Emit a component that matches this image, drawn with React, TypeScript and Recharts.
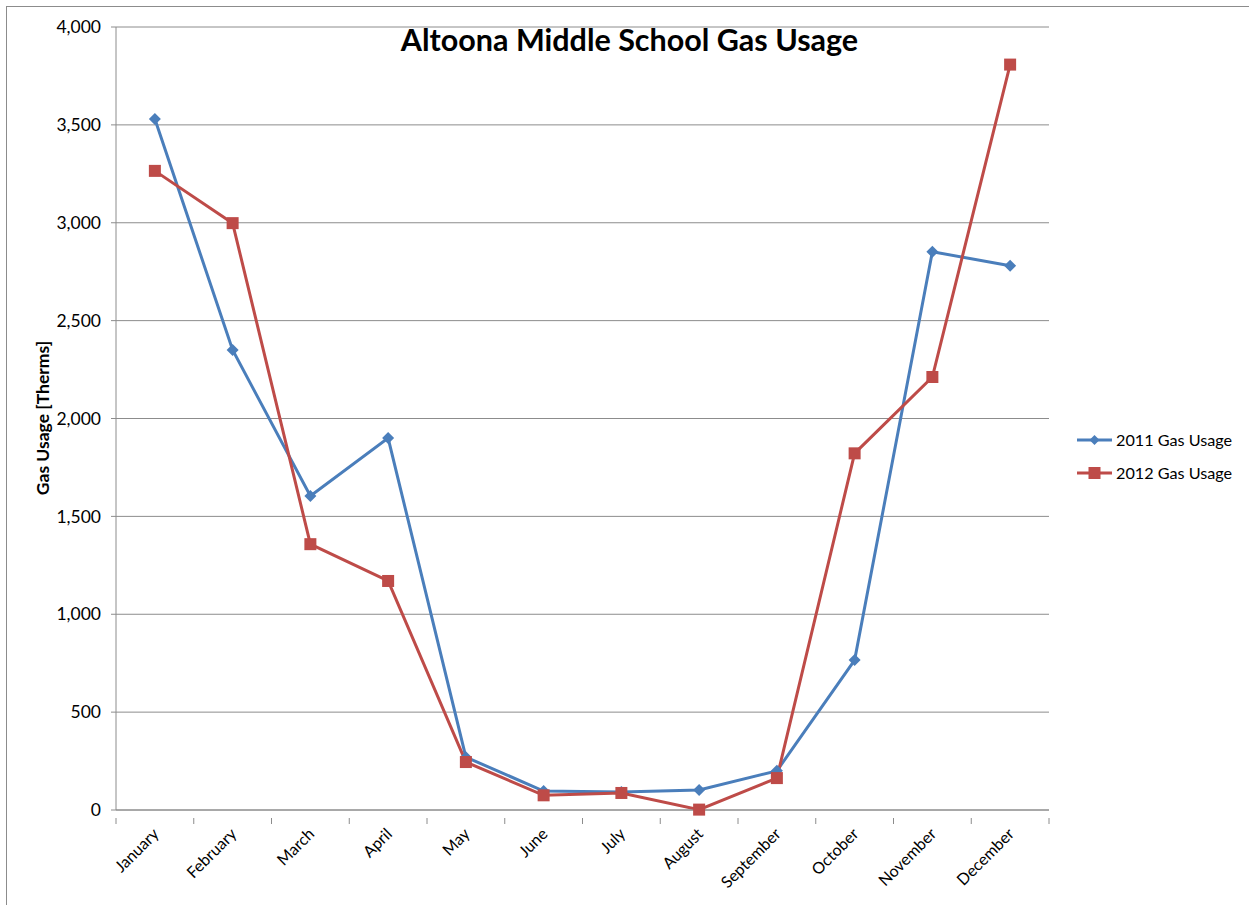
import React from "react";
import { LineChart, Line, XAxis, YAxis, CartesianGrid } from "recharts";

const months = [
  "January", "February", "March", "April", "May", "June",
  "July", "August", "September", "October", "November", "December",
];
const usage2011 = [3530, 2350, 1604, 1900, 270, 97, 92, 102, 200, 766, 2852, 2780];
const usage2012 = [3265, 2998, 1358, 1170, 245, 75, 87, 2, 163, 1822, 2212, 3808];
const yTicks = [0, 500, 1000, 1500, 2000, 2500, 3000, 3500, 4000];

const BLUE = "#4A7EBB";
const RED = "#BE4B48";
const GRID = "#8c8c8c";
const FONT = "Lato, 'Open Sans', sans-serif";

// x position of each month is the middle of its slot, so tick marks can sit on slot edges
const data = months.map((m, i) => ({
  pos: i + 0.5,
  month: m,
  y2011: usage2011[i],
  y2012: usage2012[i],
}));
const xTicks = Array.from({ length: 25 }, (_, i) => i / 2);

const Diamond = (props: any) => {
  const { cx, cy, index } = props;
  if (cx == null || cy == null) return null;
  const r = 6;
  return (
    <polygon
      key={`d-${index}`}
      points={`${cx},${cy - r} ${cx + r},${cy} ${cx},${cy + r} ${cx - r},${cy}`}
      fill={BLUE}
    />
  );
};

const Square = (props: any) => {
  const { cx, cy, index } = props;
  if (cx == null || cy == null) return null;
  const s = 12;
  return <rect key={`s-${index}`} x={cx - s / 2} y={cy - s / 2} width={s} height={s} fill={RED} />;
};

const MonthTick = (props: any) => {
  const { x, y, payload } = props;
  const v = payload.value as number;
  if (Number.isInteger(v)) {
    return <line x1={x} y1={y} x2={x} y2={y + 6} stroke={GRID} strokeWidth={1} />;
  }
  const label = months[Math.floor(v)];
  return (
    <text
      x={x + 5}
      y={y + 17}
      textAnchor="end"
      fontSize={16}
      fontFamily={FONT}
      fill="#000"
      transform={`rotate(-45, ${x + 5}, ${y + 17})`}
    >
      {label}
    </text>
  );
};

const LegendRow = ({ color, marker, label }: { color: string; marker: "d" | "s"; label: string }) => (
  <div style={{ display: "flex", alignItems: "center", height: 33 }}>
    <svg width={40} height={16}>
      <line x1={2} y1={8} x2={37} y2={8} stroke={color} strokeWidth={3} />
      {marker === "d" ? (
        <polygon points="19.5,3 24.5,8 19.5,13 14.5,8" fill={color} />
      ) : (
        <rect x={13.5} y={2} width={12} height={12} fill={color} />
      )}
    </svg>
    <span style={{ fontSize: 16.2, fontFamily: FONT, color: "#000", marginLeft: 1 }}>{label}</span>
  </div>
);

const App: React.FC = () => {
  return (
    <div style={{ position: "absolute", left: 0, top: 0, width: 1249, height: 905, background: "#fff", overflow: "hidden" }}>
      <div
        style={{
          position: "absolute",
          left: 6,
          top: 6,
          width: 1300,
          height: 1000,
          borderTop: "1px solid #8c8c8c",
          borderLeft: "1px solid #8c8c8c",
        }}
      />
      <div
        style={{
          position: "absolute",
          left: 0,
          width: 1259,
          top: 21,
          textAlign: "center",
          fontFamily: FONT,
          fontWeight: 700,
          fontSize: 30.5,
          color: "#000",
        }}
      >
        Altoona Middle School Gas Usage
      </div>
      <div
        style={{
          position: "absolute",
          left: 42,
          top: 418,
          transform: "translate(-50%, -50%) rotate(-90deg)",
          whiteSpace: "nowrap",
          fontFamily: FONT,
          fontWeight: 700,
          fontSize: 17.5,
          color: "#000",
        }}
      >
        Gas Usage [Therms]
      </div>
      <div style={{ position: "absolute", left: 1075, top: 423 }}>
        <LegendRow color={BLUE} marker="d" label="2011 Gas Usage" />
        <LegendRow color={RED} marker="s" label="2012 Gas Usage" />
      </div>
      <div style={{ position: "absolute", left: 0, top: 0 }}>
        <LineChart width={1249} height={905} data={data} margin={{ top: 27, right: 200, bottom: 15, left: 56 }}>
          <CartesianGrid vertical={false} stroke={GRID} strokeWidth={1} />
          <XAxis
            dataKey="pos"
            type="number"
            domain={[0, 12]}
            ticks={xTicks}
            interval={0}
            tickLine={false}
            axisLine={{ stroke: GRID }}
            tick={<MonthTick />}
            height={80}
          />
          <YAxis
            domain={[0, 4000]}
            ticks={yTicks}
            interval={0}
            width={60}
            tickSize={5}
            tickLine={{ stroke: GRID }}
            axisLine={{ stroke: GRID }}
            tickFormatter={(v: number) => v.toLocaleString("en-US")}
            tick={{ fontSize: 17.5, fontFamily: FONT, fill: "#000" }}
            tickMargin={10}
          />
          <Line
            dataKey="y2011"
            stroke={BLUE}
            strokeWidth={3}
            dot={<Diamond />}
            activeDot={false}
            isAnimationActive={false}
          />
          <Line
            dataKey="y2012"
            stroke={RED}
            strokeWidth={3}
            dot={<Square />}
            activeDot={false}
            isAnimationActive={false}
          />
        </LineChart>
      </div>
    </div>
  );
};

export default App;
